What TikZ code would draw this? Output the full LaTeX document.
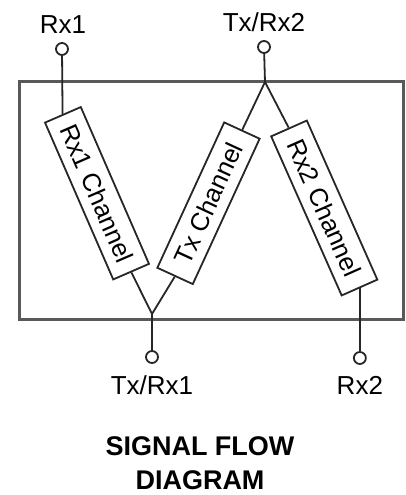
\documentclass[tikz,border=0pt]{standalone}
\usepackage{fontspec}
\setmainfont{Liberation Sans}
\begin{document}
\begin{tikzpicture}[x=1pt,y=1pt,
 chan/.style={draw=black!85,line width=1.8pt,minimum height=39pt,inner sep=0pt,font=\fontsize{25.5}{25.5}\selectfont},
 port/.style={circle,draw=black!85,line width=1.8pt,minimum size=12pt,inner sep=0pt,fill=white},
 wire/.style={line width=1.8pt,black!85},
 lbl/.style={font=\fontsize{26}{26}\selectfont},
 frame/.style={line width=3pt,black!65}]
\useasboundingbox (0,0) rectangle (406,495);
\draw[frame] (19,413) rectangle (403,175);
\node[port] (rx1p) at (62,446) {};
\node[lbl] (rx1l) at (63,470) {Rx1};
\node[port] (trx2p) at (264,448) {};
\node[lbl] (trx2l) at (264,473) {Tx/Rx2};
\coordinate (j2) at (265,413);
\coordinate (j1) at (152,181);
\node[port] (trx1p) at (152,138) {};
\node[lbl] (trx1l) at (152,110) {Tx/Rx1};
\node[chan, minimum width=171pt, rotate=-66.5] (c1) at (97,301.75) {Rx1 Channel};
\node[chan, minimum width=160pt, rotate=65.3] (ct) at (208.5,291.75) {Tx Channel};
\node[chan, minimum width=174pt, rotate=-66.1] (c2) at (324.25,287) {Rx2 Channel};
\coordinate (rx2y) at (0,137);
\node[port] (rx2p) at (c2.east |- rx2y) {};
\node[lbl] (rx2l) at ([yshift=-27pt]rx2p.center) {Rx2};
\draw[wire] (rx1p) -- (c1.west);
\draw[wire] (trx2p) -- (j2) -- (ct.east);
\draw[wire] (j2) -- (c2.west);
\draw[wire] (c1.east) -- (j1) -- (ct.west);
\draw[wire] (j1) -- (trx1p);
\draw[wire] (c2.east) -- (rx2p);
\node[font=\bfseries\fontsize{27}{34}\selectfont, align=center, inner sep=1pt] (title) at (200,32) {SIGNAL FLOW\\DIAGRAM};
\end{tikzpicture}
\end{document}
